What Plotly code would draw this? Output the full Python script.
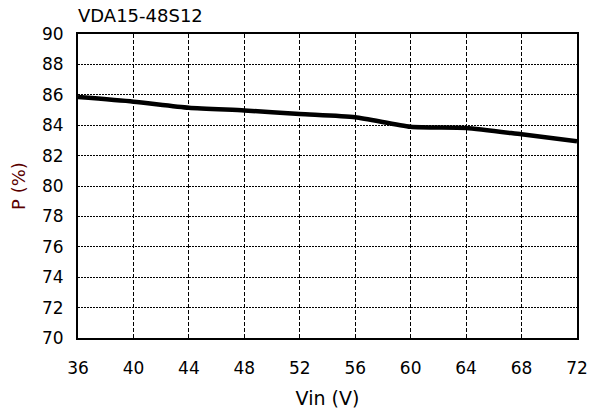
import plotly.graph_objects as go

vin = [36, 40, 44, 48, 52, 56, 60, 64, 68, 72]
eff = [85.85, 85.55, 85.15, 84.97, 84.74, 84.53, 83.9, 83.82, 83.4, 82.95]
x_ticks = [36, 40, 44, 48, 52, 56, 60, 64, 68, 72]
y_ticks = [70, 72, 74, 76, 78, 80, 82, 84, 86, 88, 90]

font = "DejaVu Sans, Verdana, sans-serif"
W, H = 589, 413

fig = go.Figure()
fig.add_trace(go.Scatter(
    x=vin, y=eff, mode="lines",
    line=dict(color="black", width=4.5, shape="spline", smoothing=0.6),
    showlegend=False, hoverinfo="skip",
))

fig.update_layout(
    width=W, height=H,
    margin=dict(l=78, r=12, t=34, b=75),
    paper_bgcolor="white", plot_bgcolor="white",
    font=dict(family=font, size=17, color="black"),
    title=dict(text="VDA15-48S12", x=78/W, xanchor="left", y=1-16/H,
               yanchor="middle", font=dict(size=18, family=font, color="black")),
)
fig.update_xaxes(
    range=[36, 72], tickvals=x_ticks, ticktext=[str(v) for v in x_ticks],
    showgrid=True, gridcolor="black", gridwidth=1, griddash="4px,2px",
    showline=True, linecolor="black", linewidth=2, mirror=True,
    ticks="", ticklabelstandoff=14, automargin=False,
    tickfont=dict(size=17),
    title=dict(text="Vin (V)", font=dict(size=19, family=font), standoff=14),
    zeroline=False,
)
fig.update_yaxes(
    range=[70, 90], tickvals=y_ticks,
    showgrid=True, gridcolor="black", gridwidth=1, griddash="2px,1px",
    showline=True, linecolor="black", linewidth=2, mirror=True,
    ticks="", ticklabelstandoff=9, automargin=False,
    tickfont=dict(size=17),
    title=dict(text="P (%)", font=dict(size=18, family=font, color="#5a0000"), standoff=12),
    zeroline=False,
)

fig.write_html(
    "out.html",
    config={"displayModeBar": False},
    post_script="document.body.style.margin='0';document.body.style.overflow='hidden';",
)
